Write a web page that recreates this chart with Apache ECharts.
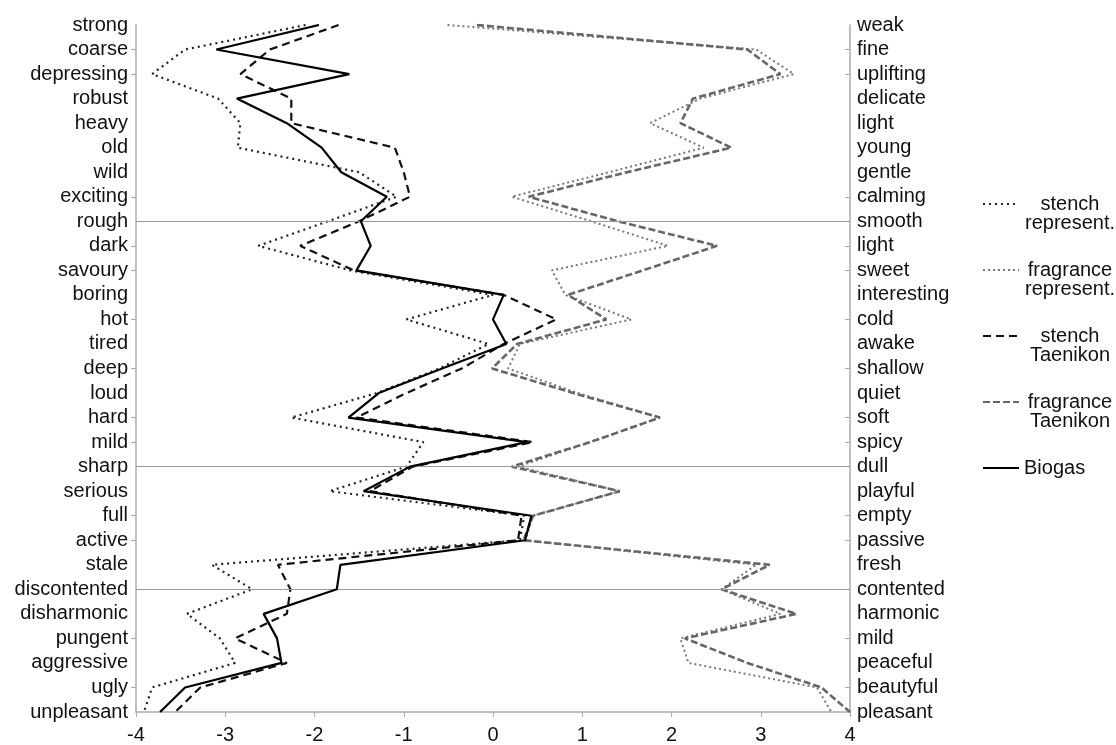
<!DOCTYPE html>
<html>
<head>
<meta charset="utf-8">
<script src="https://cdn.jsdelivr.net/npm/echarts@6/dist/echarts.min.js"></script>
<style>html,body{margin:0;padding:0;background:#fff;}#c{width:1116px;height:745px;}</style>
</head>
<body>
<div id="c"></div>
<script>
const leftLabels = ['strong','coarse','depressing','robust','heavy','old','wild','exciting','rough','dark','savoury','boring','hot','tired','deep','loud','hard','mild','sharp','serious','full','active','stale','discontented','disharmonic','pungent','aggressive','ugly','unpleasant'];
const rightLabels = ['weak','fine','uplifting','delicate','light','young','gentle','calming','smooth','light','sweet','interesting','cold','awake','shallow','quiet','soft','spicy','dull','playful','empty','passive','fresh','contented','harmonic','mild','peaceful','beautyful','pleasant'];
const xTicks = [-4,-3,-2,-1,0,1,2,3,4];
const separatorRows = ['rough','sharp','discontented'];
const tickRows = ['coarse','depressing','exciting','dark','savoury','hot','deep','hard','mild','full','active','pungent','ugly'];

const stenchRepresent = [-2.1,-3.45,-3.82,-3.08,-2.83,-2.86,-1.5,-1.08,-1.85,-2.63,-1.6,0.0,-0.97,-0.05,-0.6,-1.3,-2.26,-0.78,-0.97,-1.83,0.35,0.3,-3.15,-2.7,-3.43,-3.06,-2.89,-3.82,-3.91];
const fragranceRepresent = [-0.51,2.95,3.37,2.32,1.76,2.36,1.3,0.21,1.1,1.96,0.66,0.81,1.55,0.3,0.17,0.95,1.87,1.09,0.28,1.42,0.45,0.36,2.95,2.56,3.22,2.1,2.19,3.63,3.79];
const stenchTaenikon = [-1.73,-2.5,-2.83,-2.26,-2.26,-1.1,-1.0,-0.93,-1.5,-2.16,-1.56,0.12,0.71,0.12,-0.35,-0.97,-1.53,0.45,-0.9,-1.38,0.32,0.28,-2.41,-2.27,-2.31,-2.89,-2.31,-3.28,-3.56];
const fragranceTaenikon = [-0.18,2.85,3.22,2.24,2.1,2.67,1.5,0.4,1.4,2.51,1.68,0.84,1.27,0.27,-0.01,0.9,1.87,1.09,0.21,1.42,0.45,0.34,3.1,2.56,3.4,2.15,2.85,3.68,4.0];
const biogas = [-1.95,-3.1,-1.61,-2.87,-2.31,-1.92,-1.7,-1.19,-1.48,-1.37,-1.53,0.12,0.0,0.15,-0.57,-1.28,-1.62,0.38,-0.93,-1.45,0.43,0.36,-1.71,-1.75,-2.57,-2.42,-2.37,-3.45,-3.73];

const FONT = 'Liberation Sans';
const FS = 20;
const tickIdx = new Set(tickRows.map(n => leftLabels.indexOf(n)));

const chart = echarts.init(document.getElementById('c'));
const legendText = {
  'stench represent.': '{c| }\n{c|stench}\n{c|represent.}',
  'fragrance represent.': '{c| }\n{c|fragrance}\n{c|represent.}',
  'stench Taenikon': '{c| }\n{c|stench}\n{c|Taenikon}',
  'fragrance Taenikon': '{c| }\n{c|fragrance}\n{c|Taenikon}',
  'Biogas': '{c| }\n{b|Biogas}\n{c| }'
};
function mkSeries(name, data, color, type, width) {
  return {
    name, type: 'line', data, yAxisIndex: 0, xAxisIndex: 0,
    symbol: 'none', smooth: false,
    lineStyle: { color, width, type },
    itemStyle: { color }
  };
}
const series = [
  mkSeries('stench represent.', stenchRepresent, '#222', [2,4], 2.2),
  mkSeries('fragrance represent.', fragranceRepresent, '#777', [2,3], 2),
  mkSeries('stench Taenikon', stenchTaenikon, '#111', [8,5], 2.2),
  mkSeries('fragrance Taenikon', fragranceTaenikon, '#666', [7,3], 2.6),
  mkSeries('Biogas', biogas, '#000', 'solid', 2.2)
];
series[4].markLine = {
  silent: true, symbol: 'none', animation: false,
  label: { show: false },
  lineStyle: { color: '#999', width: 1, type: 'solid' },
  data: separatorRows.map(n => ({ yAxis: n }))
};
series[4].z = 5;

chart.setOption({
  animation: false,
  backgroundColor: '#fff',
  grid: { left: 136, right: 266, top: 25, bottom: 33, containLabel: false },
  xAxis: {
    type: 'value', min: xTicks[0], max: xTicks[xTicks.length-1], interval: 1,
    axisLine: { show: true, onZero: false, lineStyle: { color: '#aaa', width: 1.5 } },
    axisTick: { show: true, length: 5, lineStyle: { color: '#aaa' } },
    splitLine: { show: false },
    axisLabel: { fontFamily: FONT, fontSize: FS, color: '#111', margin: 13 }
  },
  yAxis: [
    {
      type: 'category', data: leftLabels, inverse: true, boundaryGap: false, position: 'left',
      axisLine: { show: true, onZero: false, lineStyle: { color: '#aaa', width: 1.5 } },
      axisTick: { show: true, length: 5, interval: (i) => tickIdx.has(i), lineStyle: { color: '#aaa' } },
      axisLabel: { interval: 0, fontFamily: FONT, fontSize: FS, color: '#111', margin: 8 },
      splitLine: { show: false }
    },
    {
      type: 'category', data: rightLabels, inverse: true, boundaryGap: false, position: 'right',
      axisLine: { show: true, onZero: false, lineStyle: { color: '#aaa', width: 1.5 } },
      axisTick: { show: true, inside: true, length: 5, interval: (i) => tickIdx.has(i), lineStyle: { color: '#aaa' } },
      axisLabel: { interval: 0, fontFamily: FONT, fontSize: FS, color: '#111', margin: 7 },
      splitLine: { show: false }
    }
  ],
  legend: {
    orient: 'vertical', left: 977, top: 170, itemGap: 8, itemWidth: 36, itemHeight: 14,
    itemStyle: { opacity: 0 },
    data: series.map(s => s.name),
    formatter: (name) => legendText[name],
    textStyle: {
      fontFamily: FONT, fontSize: FS, color: '#111',
      rich: {
        c: { width: 92, align: 'center', fontFamily: FONT, fontSize: FS, lineHeight: 19, color: '#111' },
        b: { fontFamily: FONT, fontSize: FS, lineHeight: 19, color: '#111' }
      }
    }
  },
  series
});
</script>
</body>
</html>
